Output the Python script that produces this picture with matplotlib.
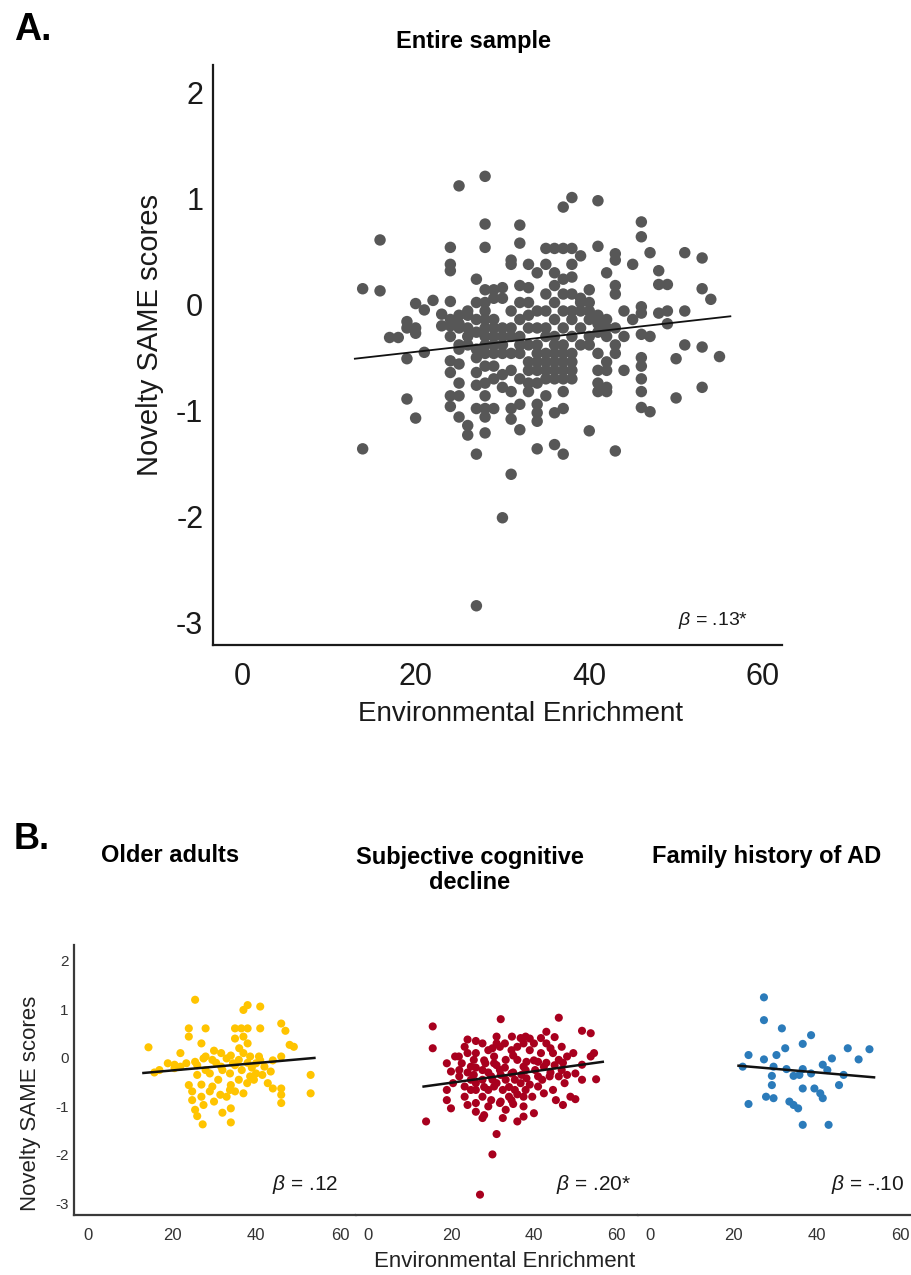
import matplotlib
matplotlib.use("Agg")
import matplotlib.pyplot as plt

plt.rcParams['font.family'] = ['Liberation Sans', 'DejaVu Sans']
plt.rcParams['mathtext.fontset'] = 'custom'
plt.rcParams['mathtext.it'] = 'Liberation Sans:italic'
plt.rcParams['mathtext.rm'] = 'Liberation Sans'
plt.rcParams['axes.unicode_minus'] = False

# ---------------- data: panel A (entire sample) ----------------
entire_x = [
    13.9, 13.9,
    15.9, 15.9,
    17,
    18,
    19, 19, 19, 19,
    20, 20, 20, 20,
    21, 21,
    22,
    23, 23,
    24, 24, 24, 24, 24, 24, 24, 24, 24, 24, 24,
    25, 25, 25, 25, 25, 25, 25, 25, 25, 25,
    26, 26, 26, 26, 26, 26, 26,
    27, 27, 27, 27, 27, 27, 27, 27, 27, 27, 27,
    28, 28, 28, 28, 28, 28, 28, 28, 28, 28, 28, 28, 28, 28, 28, 28, 28,
    29, 29, 29, 29, 29, 29, 29, 29, 29, 29,
    30, 30, 30, 30, 30, 30, 30, 30, 30,
    31, 31, 31, 31, 31, 31, 31, 31, 31, 31, 31,
    32, 32, 32, 32, 32, 32, 32, 32, 32, 32, 32,
    33, 33, 33, 33, 33, 33, 33, 33, 33, 33,
    34, 34, 34, 34, 34, 34, 34, 34, 34, 34, 34, 34,
    35, 35, 35, 35, 35, 35, 35, 35, 35, 35, 35,
    36, 36, 36, 36, 36, 36, 36, 36, 36, 36, 36, 36, 36,
    37, 37, 37, 37, 37, 37, 37, 37, 37, 37, 37, 37, 37, 37,
    38, 38, 38, 38, 38, 38, 38, 38, 38, 38, 38, 38,
    39, 39, 39, 39, 39, 39,
    40, 40, 40, 40, 40, 40, 40,
    41, 41, 41, 41, 41, 41, 41, 41, 41,
    42, 42, 42, 42, 42, 42, 42, 42,
    43, 43, 43, 43, 43, 43, 43, 43,
    44, 44, 44,
    45, 45,
    46, 46, 46, 46, 46, 46, 46, 46, 46, 46,
    47, 47, 47,
    48, 48, 48,
    49, 49, 49,
    50, 50,
    51, 51, 51,
    53, 53, 53, 53,
    54,
    55,
]
entire_y = [
    0.15, -1.36,
    0.61, 0.13,
    -0.31,
    -0.31,
    -0.16, -0.22, -0.51, -0.89,
    0.01, -0.22, -0.27, -1.07,
    -0.05, -0.45,
    0.04,
    -0.09, -0.20,
    0.54, 0.38, 0.32, 0.03, -0.14, -0.20, -0.30, -0.53, -0.64, -0.86, -0.96,
    1.12, -0.10, -0.18, -0.22, -0.38, -0.42, -0.56, -0.74, -0.86, -1.06,
    -0.06, -0.10, -0.22, -0.30, -0.38, -1.14, -1.23,
    0.24, 0.02, -0.14, -0.26, -0.42, -0.50, -0.64, -0.76, -0.98, -1.41, -2.84,
    1.21, 0.76, 0.54, 0.14, 0.02, -0.06, -0.14, -0.22, -0.30, -0.38, -0.46, -0.58, -0.74, -0.86, -0.98, -1.06, -1.21,
    0.14, 0.06, -0.14, -0.22, -0.30, -0.38, -0.46, -0.58, -0.70, -0.98,
    0.16, 0.06, -0.22, -0.30, -0.38, -0.46, -0.66, -0.78, -2.01,
    0.42, 0.38, -0.06, -0.22, -0.30, -0.46, -0.62, -0.82, -0.98, -1.08, -1.60,
    0.75, 0.58, 0.18, 0.02, -0.14, -0.30, -0.38, -0.46, -0.70, -0.94, -1.18,
    0.38, 0.16, 0.02, -0.10, -0.22, -0.38, -0.54, -0.62, -0.74, -0.82,
    0.30, -0.06, -0.22, -0.38, -0.46, -0.54, -0.62, -0.74, -0.94, -1.02, -1.10, -1.36,
    0.53, 0.38, 0.10, -0.06, -0.22, -0.30, -0.46, -0.54, -0.62, -0.70, -0.86,
    0.53, 0.30, 0.18, 0.02, -0.14, -0.30, -0.38, -0.46, -0.54, -0.62, -0.70, -1.02, -1.32,
    0.92, 0.53, 0.24, 0.10, -0.06, -0.22, -0.38, -0.46, -0.54, -0.62, -0.70, -0.82, -0.98, -1.41,
    1.01, 0.53, 0.38, 0.26, 0.10, -0.06, -0.14, -0.30, -0.46, -0.54, -0.62, -0.70,
    0.46, 0.06, 0.02, -0.06, -0.22, -0.38,
    0.14, 0.02, -0.06, -0.14, -0.30, -0.38, -1.19,
    0.98, 0.55, -0.10, -0.18, -0.26, -0.46, -0.62, -0.74, -0.82,
    0.30, -0.14, -0.22, -0.30, -0.54, -0.62, -0.78, -0.82,
    0.48, 0.42, 0.18, 0.10, -0.22, -0.38, -0.46, -1.38,
    -0.06, -0.30, -0.62,
    0.38, -0.14,
    0.78, 0.64, -0.02, -0.08, -0.28, -0.50, -0.58, -0.70, -0.82, -0.97,
    0.49, -0.30, -1.01,
    0.32, 0.19, -0.08,
    0.19, -0.06, -0.18,
    -0.51, -0.88,
    0.49, -0.06, -0.38,
    0.44, 0.15, -0.40, -0.78,
    0.05,
    -0.49,
]
entire_fit_x = [13.0, 56.25]
entire_fit_y = [-0.51, -0.11]
entire_beta = r"$\beta$ = .13*"

# ---------------- data: panel B subgroups ----------------
oa_x = [25.5, 38, 41, 37, 24, 24, 28, 35, 36.5, 38,
        41, 46, 47, 35, 37, 38, 14.4, 27, 48, 49,
        22, 28, 31.7, 37, 40.7, 46, 19, 17, 15.8, 20.6,
        23.4, 25.5, 27.5, 29.6, 33, 34.5, 35.9, 38.6, 40, 42,
        43.5, 40, 26, 29, 31.7, 33.8, 36.6, 38.6, 35.9, 37.9,
        42.8, 44, 46, 46, 46, 53, 53, 24, 24.8, 24.8,
        27, 29, 29.6, 30, 27.5, 25.5, 26, 27.3, 32, 34,
        34, 31.5, 33.8, 35, 34, 37, 20.6, 22, 30.5, 32,
        34, 36, 39, 41, 44, 30, 26, 28, 35, 38,
        39.5, 41.5, 31, 33, 27]
oa_y = [1.20, 1.09, 1.06, 0.99, 0.61, 0.44, 0.61, 0.61, 0.61, 0.61,
        0.61, 0.71, 0.56, 0.40, 0.44, 0.30, 0.22, 0.30, 0.27, 0.23,
        0.10, 0.03, 0.10, 0.10, 0.03, 0.03, -0.11, -0.25, -0.30, -0.14,
        -0.11, -0.08, -0.01, -0.04, -0.01, -0.11, -0.04, 0.03, -0.11, -0.18,
        -0.28, -0.32, -0.35, -0.32, -0.18, -0.32, -0.25, -0.38, -0.45, -0.52,
        -0.52, -0.63, -0.63, -0.76, -0.93, -0.35, -0.73, -0.56, -0.69, -0.87,
        -0.80, -0.69, -0.59, -0.90, -0.97, -1.07, -1.20, -1.37, -1.13, -1.04,
        -1.33, -0.76, -0.66, -0.69, -0.56, -0.73, -0.21, -0.18, -0.10, -0.25,
        0.05, 0.20, -0.20, -0.05, -0.05, 0.15, -0.15, -0.25, -0.15, -0.10,
        -0.45, -0.35, -0.45, -0.80, -0.55]
oa_fit_x = [13.2, 53.9]
oa_fit_y = [-0.31, 0.00]
oa_beta = r"$\beta$ = .12"

scd_x = [15.6, 32, 46, 15.6, 14, 31, 30, 27, 24, 31,
         34.7, 38, 43, 45, 51.6, 53.7, 54.5, 55, 50, 47,
         40, 36, 28, 26, 20, 19, 19, 20, 21, 22,
         23.3, 24, 25.5, 26, 27.6, 29, 30.4, 31.8, 33, 34.6,
         36, 37.5, 39, 40, 41.7, 43, 44.6, 46, 48, 51.6,
         50, 51.6, 47.4, 43.8, 44.6, 46.7, 42.4, 40.3, 37.5, 34.6,
         31.8, 29.7, 27.6, 24.8, 23.3, 20.5, 19, 26, 27.6, 29,
         31, 32.5, 34, 35.4, 36.8, 38, 39.6, 41, 42.4, 26,
         29, 31.8, 33.2, 37.5, 24.8, 22.6, 30.4, 33.2, 36, 38.2,
         41, 35.4, 38.2, 41, 33.2, 27.6, 25.5, 30.4, 26, 28.3,
         31, 36.8, 41.7, 46.7, 49.5, 53.7, 48.8, 46, 45.3, 21.9,
         37.5, 34.6, 29.7, 24.8, 23.3, 24, 27.6, 32.5, 37.5,
         22, 24, 26, 28, 29, 30, 31, 32, 33, 34,
         35, 36, 37, 38, 39, 40, 42, 43, 44, 45,
         47, 48, 28, 32, 35, 30, 35, 39, 44, 26]
scd_y = [0.65, 0.80, 0.83, 0.20, -1.31, -1.57, -1.99, -2.82, 0.38, 0.44,
         0.44, 0.44, 0.54, 0.43, 0.56, 0.51, 0.10, -0.44, -0.85, -0.97,
         -1.14, -1.31, -1.18, -1.11, -1.04, -0.87, -0.11, -0.28, 0.03, -0.38,
         0.23, 0.10, -0.04, 0.10, 0.30, 0.16, 0.03, 0.23, 0.30, 0.16,
         0.23, 0.30, 0.16, 0.30, 0.10, 0.30, 0.10, -0.04, 0.03, -0.14,
         -0.32, -0.45, -0.52, -0.38, -0.66, -0.25, -0.18, -0.25, -0.18, -0.32,
         -0.25, -0.38, -0.25, -0.45, -0.59, -0.52, -0.66, -0.66, -0.80, -0.66,
         -0.52, -0.66, -0.80, -0.66, -0.52, -0.66, -0.80, -0.59, -0.73, -0.93,
         -1.00, -0.93, -1.07, -1.00, -0.18, -0.11, -0.11, -0.04, -0.04, -0.08,
         -0.08, -0.45, -0.42, -0.38, -0.45, -0.45, -0.35, -0.59, -0.52, -0.11,
         0.30, 0.41, 0.41, 0.23, 0.10, 0.03, -0.80, -0.38, -0.87, 0.03,
         -0.80, -0.87, -0.87, -0.66, -0.80, -0.97, -1.24, -1.24, -1.21,
         -0.25, -0.30, -0.20, -0.05, -0.30, -0.45, -0.15, -0.35, -0.20, -0.60,
         -0.30, -0.75, -0.35, -0.25, -0.55, -0.05, -0.45, -0.10, -0.30, -0.15,
         -0.10, -0.35, -0.60, -0.90, -0.95, 0.20, 0.05, 0.40, 0.20, 0.35]
scd_fit_x = [13.4, 56.6]
scd_fit_y = [-0.59, -0.08]
scd_beta = r"$\beta$ = .20*"

fh_x = [27.3, 27.3, 31.6, 38.6, 36.6, 32.4, 30.3, 23.6, 27.3, 47.4,
        52.6, 50, 43.6, 41.4, 22.2, 29.6, 32.7, 36.6, 38.6, 42.5,
        46.4, 29.2, 34.4, 35.8, 29.2, 45.3, 36.6, 39.4, 40.8, 41.4,
        27.8, 29.6, 33.4, 34.4, 23.6, 35.5, 36.6, 42.8]
fh_y = [1.25, 0.78, 0.61, 0.47, 0.29, 0.20, 0.06, 0.06, -0.03, 0.20,
        0.18, -0.03, -0.01, -0.14, -0.18, -0.18, -0.23, -0.23, -0.32, -0.25,
        -0.35, -0.37, -0.37, -0.35, -0.56, -0.56, -0.63, -0.63, -0.73, -0.83,
        -0.80, -0.83, -0.90, -0.97, -0.95, -1.04, -1.38, -1.38]
fh_fit_x = [21.2, 53.7]
fh_fit_y = [-0.16, -0.40]
fh_beta = r"$\beta$ = -.10"

x_ticks = [0, 20, 40, 60]
y_ticks = [-3, -2, -1, 0, 1, 2]
x_label = "Environmental Enrichment"
y_label = "Novelty SAME scores"

# ---------------- figure ----------------
W, H = 912, 1275
fig = plt.figure(figsize=(W / 100, H / 100), dpi=100)


def px_axes(left, top, right, bottom):
    return fig.add_axes([left / W, 1 - bottom / H, (right - left) / W, (bottom - top) / H])


# Panel A
axA = px_axes(213, 65, 782, 645)
axA.scatter(entire_x, entire_y, s=68, c='#575757', edgecolors='none', zorder=2)
axA.plot(entire_fit_x, entire_fit_y, color='#111111', lw=1.3, zorder=3)
axA.set_xlim(-3.34, 62.2)
axA.set_ylim(-3.21, 2.26)
axA.set_xticks(x_ticks)
axA.set_yticks(y_ticks)
for s in ('top', 'right'):
    axA.spines[s].set_visible(False)
for s in ('left', 'bottom'):
    axA.spines[s].set_linewidth(1.6)
    axA.spines[s].set_color('#1a1a1a')
axA.tick_params(axis='both', length=0, labelsize=22, colors='#1a1a1a')
axA.tick_params(axis='x', pad=12)
axA.tick_params(axis='y', pad=7)
axA.set_xlabel(x_label, fontsize=20, va='center', color='#1a1a1a')
axA.xaxis.set_label_coords(0.54, -0.119)
axA.set_ylabel(y_label, fontsize=21, va='center', color='#1a1a1a')
axA.yaxis.set_label_coords(-0.111, 0.534)
axA.set_title('Entire sample', fontsize=17, fontweight='bold', x=0.457, pad=12)
axA.text(58.3, -2.98, entire_beta, fontsize=14, ha='right', va='center', color='#1a1a1a')

fig.text(14 / W, 1 - 12 / H, 'A.', fontsize=27, fontweight='bold', ha='left', va='top')
fig.text(14 / W, 1 - 822 / H, 'B.', fontsize=26, fontweight='bold', ha='left', va='top')

# Panel B
groups = [
    (74, 356, (-3.33, 63.8), oa_x, oa_y, '#FFC400', oa_fit_x, oa_fit_y, oa_beta, 59.5),
    (356, 638, (-2.9, 65.1), scd_x, scd_y, '#A8001E', scd_fit_x, scd_fit_y, scd_beta, 63.4),
    (638, 912, (-2.9, 62.8), fh_x, fh_y, '#2B7BBA', fh_fit_x, fh_fit_y, fh_beta, 61.0),
]
b_axes = []
for i, (l, r, xl, gx, gy, col, fx, fy, beta, bx) in enumerate(groups):
    ax = px_axes(l, 945, r, 1215)
    ax.scatter(gx, gy, s=34, c=col, edgecolors='none', zorder=2)
    ax.plot(fx, fy, color='#111111', lw=1.8, zorder=3)
    ax.set_xlim(*xl)
    ax.set_ylim(-3.24, 2.33)
    ax.set_xticks(x_ticks)
    for s in ('top', 'right'):
        ax.spines[s].set_visible(False)
    ax.spines['bottom'].set_linewidth(1.6)
    ax.spines['bottom'].set_color('#3a3a3a')
    if i == 0:
        ax.spines['left'].set_linewidth(1.6)
        ax.spines['left'].set_color('#3a3a3a')
        ax.set_yticks(y_ticks)
    else:
        ax.spines['left'].set_visible(False)
        ax.set_yticks([])
    ax.tick_params(axis='both', length=0, colors='#333333')
    ax.tick_params(axis='x', labelsize=12, pad=9)
    ax.tick_params(axis='y', labelsize=11, pad=4)
    ax.text(bx, -2.62, beta, fontsize=15, ha='right', va='center', color='#1a1a1a')
    b_axes.append(ax)

b_axes[0].set_ylabel(y_label, fontsize=16, va='center', color='#222222')
b_axes[0].yaxis.set_label_coords(-0.156, 0.415)
b_axes[1].set_xlabel(x_label, fontsize=16, va='center', color='#222222')
b_axes[1].xaxis.set_label_coords(0.528, -0.174)

fig.text(170 / W, 1 - 856 / H, 'Older adults', fontsize=17, fontweight='bold', ha='center', va='center')
fig.text(470 / W, 1 - 870 / H, 'Subjective cognitive\ndecline', fontsize=17, fontweight='bold',
         ha='center', va='center', linespacing=1.15)
fig.text(767 / W, 1 - 856 / H, 'Family history of AD', fontsize=17, fontweight='bold', ha='center', va='center')

fig.savefig('out.png', dpi=100)
